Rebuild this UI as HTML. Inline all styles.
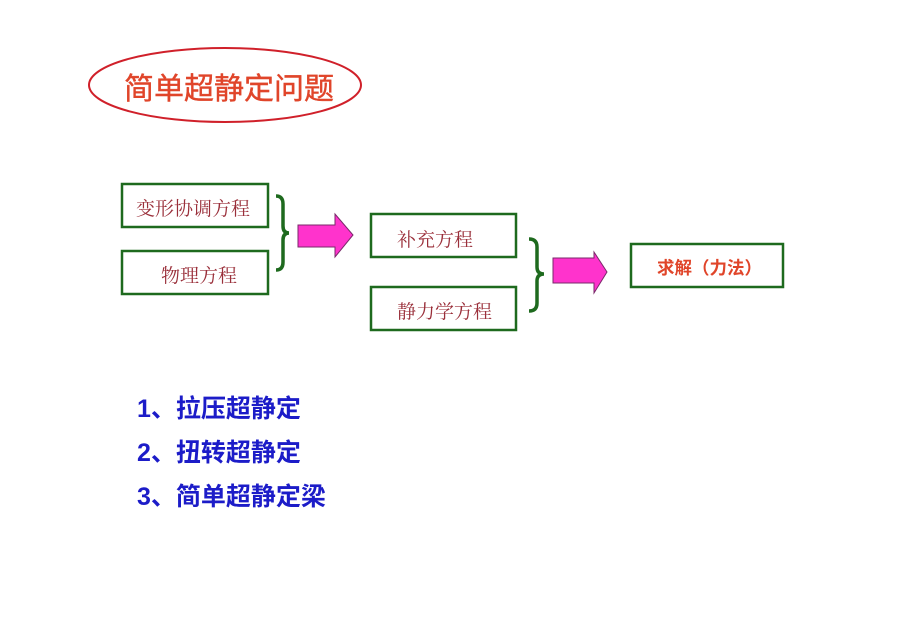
<!DOCTYPE html>
<html><head><meta charset="utf-8"><style>
body{margin:0;background:#fff;}
.w{position:relative;width:900px;height:636px;overflow:hidden;}
.t{position:absolute;white-space:nowrap;}
.s{font-family:"Liberation Serif","Noto Serif CJK SC",serif;color:#9a2f3a;font-size:19px;}
.b{font-family:"Liberation Sans","Noto Sans CJK SC",sans-serif;font-weight:bold;color:#1c1cc8;font-size:25px;}
</style></head><body><div class="w">
<svg width="900" height="636" style="position:absolute;left:0;top:0">
<ellipse cx="225" cy="85" rx="136" ry="37" fill="none" stroke="#d0202a" stroke-width="2"/>
<g fill="none" stroke="#1e6a1e" stroke-width="2.5">
<rect x="122" y="184" width="146" height="43"/>
<rect x="122" y="251" width="146" height="43"/>
<rect x="371" y="214" width="145" height="43"/>
<rect x="371" y="287" width="145" height="43"/>
<rect x="631" y="244" width="152" height="43"/>
</g>
<g fill="none" stroke="#1e6a1e" stroke-width="3.5">
<path d="M276 196 Q283 196 283 204 L283 226 Q283 233 289 233 Q283 233 283 240 L283 262 Q283 270 276 270"/>
<path d="M529 239 Q537 239 537 247 L537 267 Q537 274 544 274 Q537 274 537 281 L537 303 Q537 311 529 311"/>
</g>
<g fill="#ff33cc" stroke="#7a2a6a" stroke-width="1">
<path d="M298 225 L335 225 L335 214 L353 235 L335 257 L335 247 L298 247 Z"/>
<path d="M553 258 L594 258 L594 252 L607 272 L594 293 L594 283 L553 283 Z"/>
</g>
</svg>
<div class="t" style="left:124px;top:64px;font-family:'Liberation Sans','Noto Sans CJK SC',sans-serif;font-size:30px;color:#e0452a;-webkit-text-stroke:0.4px #e0452a;">简单超静定问题</div>
<div class="t s" style="left:136px;top:194px;">变形协调方程</div>
<div class="t s" style="left:161px;top:261px;">物理方程</div>
<div class="t s" style="left:397px;top:225px;">补充方程</div>
<div class="t s" style="left:397px;top:297px;">静力学方程</div>
<div class="t" style="left:657px;top:255px;font-family:'Liberation Sans','Noto Sans CJK SC',sans-serif;font-size:17.5px;font-weight:bold;color:#e0452a;">求解（力法）</div>
<div class="t b" style="left:137px;top:389px;">1、拉压超静定</div>
<div class="t b" style="left:137px;top:433px;">2、扭转超静定</div>
<div class="t b" style="left:137px;top:477px;">3、简单超静定梁</div>
</div></body></html>
